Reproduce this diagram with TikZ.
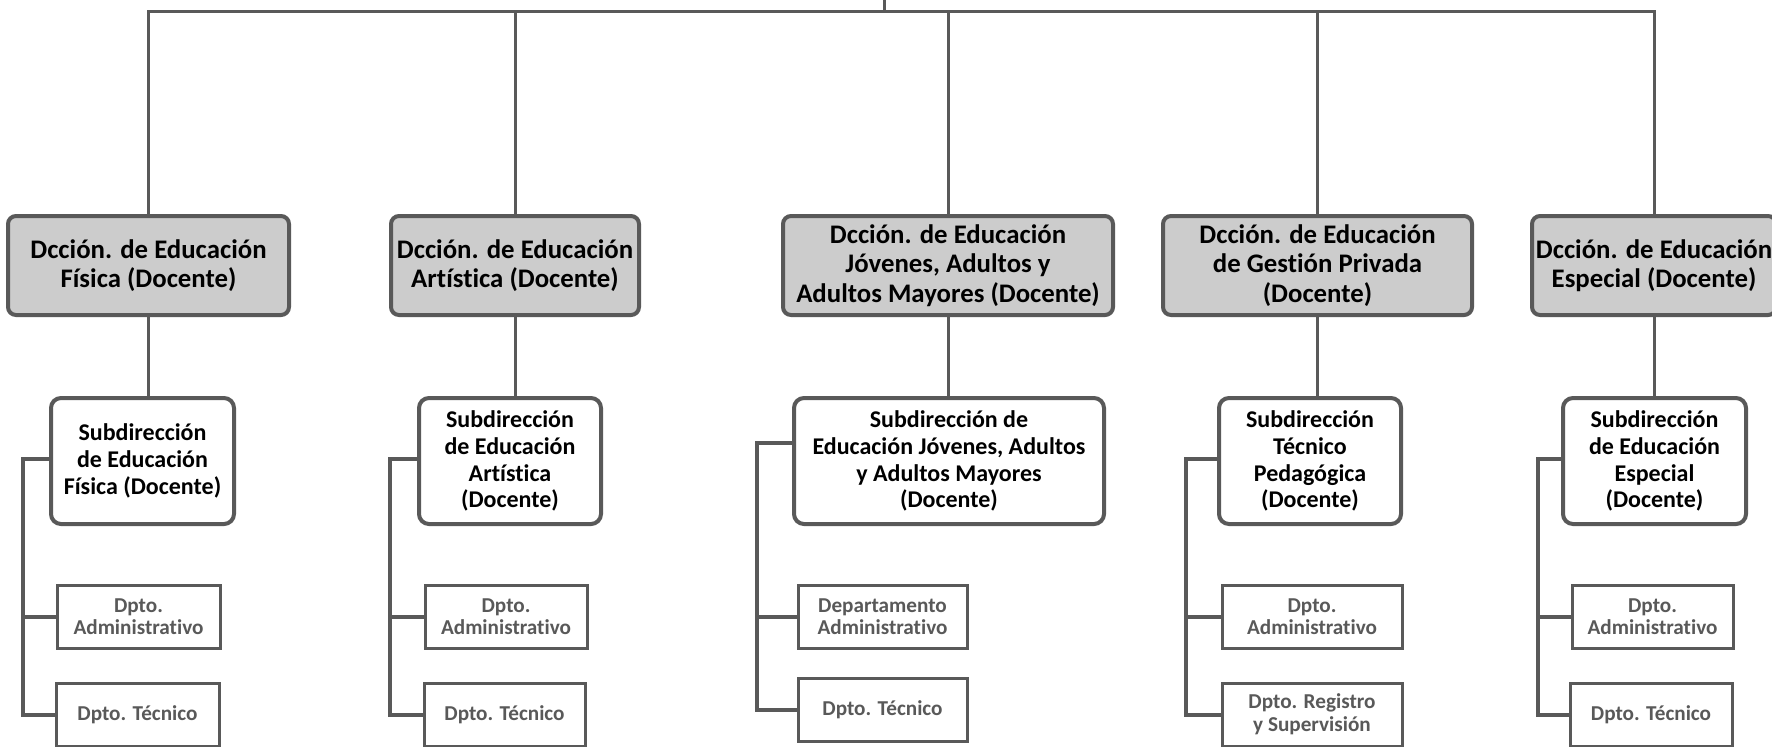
\documentclass[tikz,border=0pt]{standalone}
\usepackage{fontspec}
\setmainfont{Carlito}[Ligatures = NoCommon]
\definecolor{lgray}{RGB}{89, 89, 89}
\definecolor{boxfill}{RGB}{204, 204, 204}
\definecolor{dpttext}{RGB}{89, 89, 89}

\tikzset{
    dccion/.style = {draw = lgray, line width = 2pt, fill = boxfill, rounded corners = 4pt, align = center, inner sep = 0pt, minimum height = 49.5pt, font = \bfseries\fontsize{13.4}{14.8}\selectfont},
    subdir/.style = {draw = lgray, line width = 2pt, fill = white, rounded corners = 5pt, align = center, inner sep = 0pt, minimum height = 63pt, font = \bfseries\fontsize{12}{13.4}\selectfont},
    dpto/.style = {draw = lgray, line width = 1.5pt, fill = white, align = center, inner sep = 0pt, minimum height = 31.5pt, text = dpttext, font = \bfseries\fontsize{10.6}{11.3}\selectfont},
    conn/.style = {draw = lgray, line width = 1.5pt},
    spine/.style = {draw = lgray, line width = 2pt}
}

\begin{document}
\begin{tikzpicture}[x = 0.5pt, y = -0.5pt]
    \useasboundingbox (0,0) rectangle (1772,746);
    \clip (0,0) rectangle (1772,746);

    % direcciones
    \node[dccion, minimum width = 140.5pt] (d1) at (148.5,265.5) {Dcción. de Educación\\Física (Docente)};
    \node[dccion, minimum width = 124pt] (d2) at (515,265.5) {Dcción. de Educación\\Artística (Docente)};
    \node[dccion, minimum width = 165pt] (d3) at (948,265.5) {Dcción. de Educación\\Jóvenes, Adultos y\\Adultos Mayores (Docente)};
    \node[dccion, minimum width = 154.5pt] (d4) at (1317.5,265.5) {Dcción. de Educación\\de Gestión Privada\\(Docente)};
    \node[dccion, minimum width = 122pt] (d5) at (1654,265.5) {Dcción. de Educación\\Especial (Docente)};

    % subdirecciones
    \node[subdir, minimum width = 91.5pt] (s1) at (142.5,461) {Subdirección\\de Educación\\Física (Docente)};
    \node[subdir, minimum width = 91pt] (s2) at (510,461) {Subdirección\\de Educación\\Artística\\(Docente)};
    \node[subdir, minimum width = 155pt] (s3) at (949,461) {Subdirección de\\Educación Jóvenes, Adultos\\y Adultos Mayores\\(Docente)};
    \node[subdir, minimum width = 91pt] (s4) at (1310,461) {Subdirección\\Técnico\\Pedagógica\\(Docente)};
    \node[subdir, minimum width = 91.5pt] (s5) at (1654.5,461) {Subdirección\\de Educación\\Especial\\(Docente)};

    % departamentos
    \node[dpto, minimum width = 81.5pt] (a1) at (138.5,616.5) {Dpto.\\Administrativo};
    \node[dpto, minimum width = 81pt] (a2) at (506,616.5) {Dpto.\\Administrativo};
    \node[dpto, minimum width = 84.5pt] (a3) at (882.5,616.5) {Departamento\\Administrativo};
    \node[dpto, minimum width = 90pt] (a4) at (1312,616.5) {Dpto.\\Administrativo};
    \node[dpto, minimum width = 80.5pt] (a5) at (1652.5,616.5) {Dpto.\\Administrativo};

    \node[dpto, minimum width = 81.5pt] (t1) at (137.5,714.5) {Dpto. Técnico};
    \node[dpto, minimum width = 80.5pt] (t2) at (504.5,714.5) {Dpto. Técnico};
    \node[dpto, minimum width = 84.5pt] (t3) at (882.5,709.5) {Dpto. Técnico};
    \node[dpto, minimum width = 90pt] (t4) at (1312,714.5) {Dpto. Registro\\y Supervisión};
    \node[dpto, minimum width = 81pt] (t5) at (1651,714.5) {Dpto. Técnico};

    % conectores
    \coordinate (root) at (884,0);
    \coordinate (bar) at (884,11.5);
    \draw[conn] (root) -- (bar);
    \draw[conn] (d1.north) -- (bar -| d1.north) -- (bar -| d5.north) -- (d5.north);
    \foreach \i in {2,3,4}
        \draw[conn] (bar -| d\i.north) -- (d\i.north);
    \foreach \i in {1,...,5}
        \draw[conn] (d\i.south) -- (d\i.south |- s\i.north);

    \foreach \i/\x/\dy in {1/23/1, 2/390/1, 3/757/9, 4/1185.5/1, 5/1538/1}
    {
        \coordinate (k\i) at (\x,0);
        \draw[spine] ([yshift = \dy pt]s\i.west) -| (k\i |- t\i.west) -- (t\i.west);
        \draw[spine] (k\i |- a\i.west) -- (a\i.west);
    }
\end{tikzpicture}
\end{document}
